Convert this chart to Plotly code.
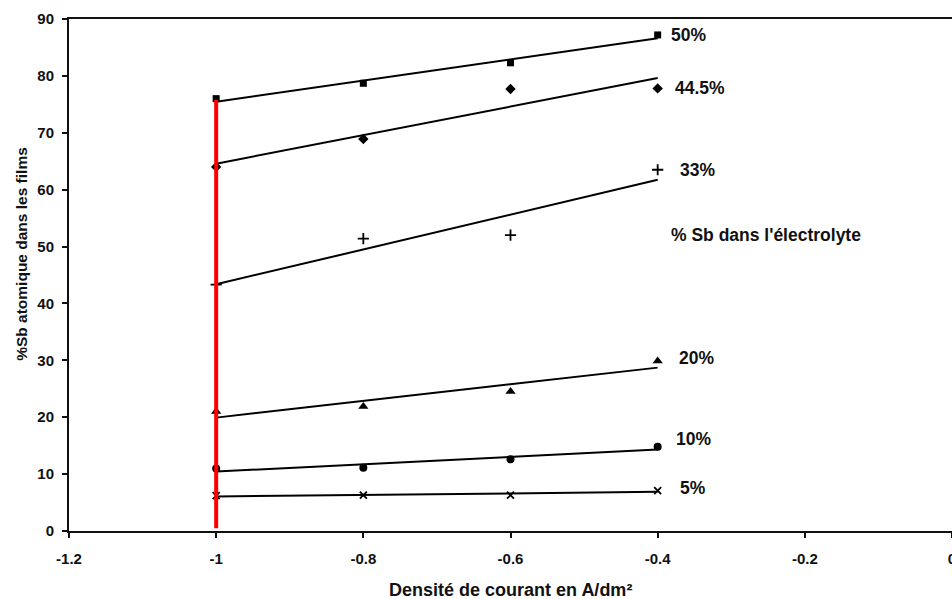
import numpy as np
import plotly.graph_objects as go

# ---- data ----
current_density = [-1.0, -0.8, -0.6, -0.4]
sb_50 = [76.0, 78.7, 82.3, 87.2]
sb_44_5 = [64.0, 68.9, 77.7, 77.8]
sb_33 = [43.3, 51.4, 52.0, 63.5]
sb_20 = [21.0, 21.9, 24.5, 29.9]
sb_10 = [11.0, 11.1, 12.6, 14.8]
sb_5 = [6.2, 6.3, 6.3, 7.1]

series_names = ["50%", "44.5%", "33%", "20%", "10%", "5%"]
series_values = [sb_50, sb_44_5, sb_33, sb_20, sb_10, sb_5]
series_symbols = ["square", "diamond", "cross-thin", "triangle-up", "circle", "x-thin"]
series_sizes = [7, 8, 8, 9, 8, 7]

# label positions (x, y in data units)
label_x = [-0.384, -0.379, -0.373, -0.374, -0.378, -0.372]
label_y = [87.2, 77.9, 63.5, 30.4, 16.2, 7.6]
legend_title = "% Sb dans l'électrolyte"
legend_title_pos = (-0.385, 52.0)

red_line_x = [-1.0, -1.0]
red_line_y = [0.5, 75.8]

x_tick_vals = [-1.2, -1.0, -0.8, -0.6, -0.4, -0.2, 0.0]
x_tick_text = ["-1.2", "-1", "-0.8", "-0.6", "-0.4", "-0.2", "0"]
y_tick_vals = [0, 10, 20, 30, 40, 50, 60, 70, 80, 90]

x_title = "Densité de courant en A/dm²"
y_title = "%Sb atomique dans les films"

FONT = "Liberation Sans, Arial, sans-serif"

fig = go.Figure()

x_arr = np.array(current_density)
for name, vals, sym, sz in zip(series_names, series_values, series_symbols, series_sizes):
    # linear trend line (least squares) through the data
    slope, intercept = np.polyfit(x_arr, np.array(vals), 1)
    xs = [x_arr.min(), x_arr.max()]
    fig.add_trace(go.Scatter(
        x=xs, y=[slope * v + intercept for v in xs], mode="lines",
        line=dict(color="black", width=2), showlegend=False, hoverinfo="skip"))
    is_thin = sym.endswith("thin")
    fig.add_trace(go.Scatter(
        x=current_density, y=vals, mode="markers", name=name, showlegend=False,
        marker=dict(symbol=sym, size=sz, color="black",
                    line=dict(color="black", width=1.8 if is_thin else 0))))

fig.add_trace(go.Scatter(
    x=red_line_x, y=red_line_y, mode="lines",
    line=dict(color="#ff0000", width=4), showlegend=False, hoverinfo="skip"))

for name, lx, ly in zip(series_names, label_x, label_y):
    fig.add_annotation(x=lx, y=ly, text="<b>" + name + "</b>", showarrow=False,
                       xanchor="left", yanchor="middle",
                       font=dict(family=FONT, size=17.5, color="#111"))
fig.add_annotation(x=legend_title_pos[0], y=legend_title_pos[1],
                   text="<b>" + legend_title + "</b>", showarrow=False,
                   xanchor="left", yanchor="middle",
                   font=dict(family=FONT, size=17.5, color="#111"))

# axis titles
fig.add_annotation(xref="paper", yref="paper", x=0.5, y=-0.115,
                   text="<b>" + x_title + "</b>", showarrow=False,
                   xanchor="center", yanchor="middle",
                   font=dict(family=FONT, size=18, color="#111"))
fig.add_annotation(xref="paper", yref="paper", x=-0.054, y=0.542,
                   text="<b>" + y_title + "</b>", showarrow=False, textangle=-90,
                   xanchor="center", yanchor="middle",
                   font=dict(family=FONT, size=15.5, color="#111"))

fig.update_layout(
    width=952, height=599,
    margin=dict(l=69, r=0, t=19, b=68, autoexpand=False),
    paper_bgcolor="white", plot_bgcolor="white",
    font=dict(family=FONT, color="#111"),
    xaxis=dict(range=[-1.2, 0.0], tickvals=x_tick_vals, ticktext=x_tick_text,
               showgrid=False, zeroline=False, showline=True, linecolor="#111",
               linewidth=2, mirror=True, ticks="outside", ticklen=5, tickwidth=1.5,
               tickcolor="#111", ticklabelstandoff=8, automargin=False,
               ticklabeloverflow="allow",
               tickfont=dict(family=FONT, size=15, color="#111", weight="bold")),
    yaxis=dict(range=[0, 90], tickvals=y_tick_vals,
               showgrid=False, zeroline=False, showline=True, linecolor="#111",
               linewidth=2, ticks="outside", ticklen=5, tickwidth=1.5,
               tickcolor="#111", ticklabelstandoff=5, automargin=False,
               tickfont=dict(family=FONT, size=15, color="#111", weight="bold")),
)

fig.write_html("out.html", config={"displayModeBar": False},
               post_script="document.body.style.margin='0';document.body.style.overflow='hidden';")
